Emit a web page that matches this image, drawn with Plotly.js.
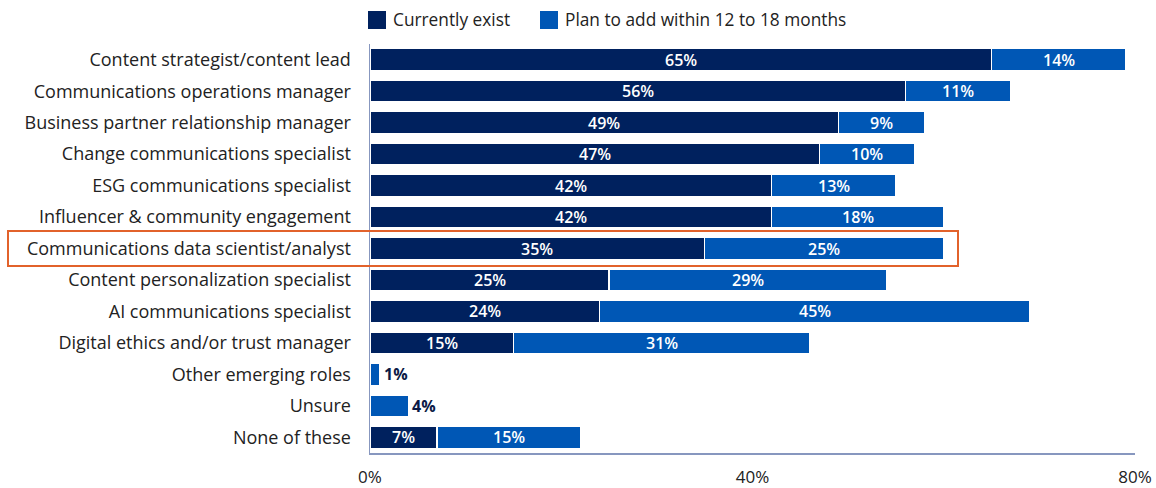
<!DOCTYPE html>
<html>
<head>
<meta charset="utf-8">
<script src="https://cdn.plot.ly/plotly-3.0.1.min.js"></script>
<style>html,body{margin:0;padding:0;background:#fff;}#chart{width:1156px;height:488px;}</style>
</head>
<body>
<div id="chart"></div>
<script>
const categories = [
  "Content strategist/content lead",
  "Communications operations manager",
  "Business partner relationship manager",
  "Change communications specialist",
  "ESG communications specialist",
  "Influencer & community engagement",
  "Communications data scientist/analyst",
  "Content personalization specialist",
  "AI communications specialist",
  "Digital ethics and/or trust manager",
  "Other emerging roles",
  "Unsure",
  "None of these"
];
const currentlyExist = [65, 56, 49, 47, 42, 42, 35, 25, 24, 15, 0, 0, 7];
const planToAdd = [14, 11, 9, 10, 13, 18, 25, 29, 45, 31, 1, 4, 15];
const seriesNames = ["Currently exist", "Plan to add within 12 to 18 months"];
const xTickValues = [0, 40, 80];
const xTickLabels = ["0%", "40%", "80%"];
const highlightCategory = "Communications data scientist/analyst";

const darkBlue = "#00215E";
const midBlue = "#0057B5";
const font = "'Open Sans', 'Noto Sans', sans-serif";
const textColor = "#222";

const traces = [
  {
    type: "bar", orientation: "h", name: seriesNames[0],
    y: categories, x: currentlyExist,
    marker: {color: darkBlue, line: {color: "#fff", width: 1.5}},
    hoverinfo: "skip", showlegend: false
  },
  {
    type: "bar", orientation: "h", name: seriesNames[1],
    y: categories, x: planToAdd,
    marker: {color: midBlue, line: {color: "#fff", width: 1.5}},
    hoverinfo: "skip", showlegend: false
  }
];

// value labels positioned through the axes from the data
const annotations = [];
categories.forEach((cat, i) => {
  const c = currentlyExist[i], p = planToAdd[i];
  if (c > 0) {
    annotations.push({
      x: c / 2, y: cat, xref: "x", yref: "y", text: c + "%", showarrow: false,
      font: {family: font, size: 16, color: "#fff", weight: 600}
    });
  }
  if (p > 0) {
    if (c > 0) {
      annotations.push({
        x: c + p / 2, y: cat, xref: "x", yref: "y", text: p + "%", showarrow: false,
        font: {family: font, size: 16, color: "#fff", weight: 600}
      });
    } else {
      annotations.push({
        x: c + p, y: cat, xref: "x", yref: "y", text: p + "%", showarrow: false,
        xanchor: "left", xshift: 2,
        font: {family: font, size: 16, color: "#0b1a45", weight: 700}
      });
    }
  }
});

// manual legend (paper coordinates: plot spans x 370..1135 px, y 44..453 px)
const px = v => (v - 370) / 765;
const py = v => (453 - v) / 409;
const legendItems = [
  {sq: 368, tx: 391, color: darkBlue, name: seriesNames[0]},
  {sq: 540, tx: 563, color: midBlue, name: seriesNames[1]}
];
const shapes = [];
legendItems.forEach(it => {
  shapes.push({
    type: "rect", xref: "paper", yref: "paper",
    x0: px(it.sq), x1: px(it.sq + 18), y0: py(29), y1: py(11),
    fillcolor: it.color, line: {width: 0}
  });
  annotations.push({
    xref: "paper", yref: "paper", x: px(it.tx), y: py(20), xanchor: "left", yanchor: "middle",
    text: it.name, showarrow: false, font: {family: font, size: 17.3, color: textColor}
  });
});

const hiIndex = categories.indexOf(highlightCategory);
shapes.push({
  type: "rect", xref: "paper", yref: "y",
  x0: px(8), x1: px(958),
  y0: hiIndex - 0.56, y1: hiIndex + 0.56,
  line: {color: "#E2622B", width: 2}, fillcolor: "rgba(0,0,0,0)",
  layer: "above"
});

const layout = {
  width: 1156, height: 488,
  margin: {l: 370, r: 21, t: 44, b: 35},
  paper_bgcolor: "#fff", plot_bgcolor: "#fff",
  barmode: "stack", bargap: 0.3,
  font: {family: font, size: 17, color: textColor},
  showlegend: false,
  xaxis: {
    range: [0, 80], tickvals: xTickValues, ticktext: xTickLabels,
    showgrid: false, zeroline: false,
    showline: true, linecolor: "#8797BF", linewidth: 1.5,
    ticks: "", ticklabelstandoff: 8,
    tickfont: {family: font, size: 17, color: textColor},
    fixedrange: true
  },
  yaxis: {
    autorange: "reversed", type: "category",
    showgrid: false, zeroline: false,
    showline: true, linecolor: "#8797BF", linewidth: 1.5,
    ticks: "", ticklabelstandoff: 14,
    tickfont: {family: font, size: 18, color: textColor},
    fixedrange: true
  },
  annotations: annotations,
  shapes: shapes
};

Plotly.newPlot("chart", traces, layout, {displayModeBar: false, staticPlot: true});
</script>
</body>
</html>
